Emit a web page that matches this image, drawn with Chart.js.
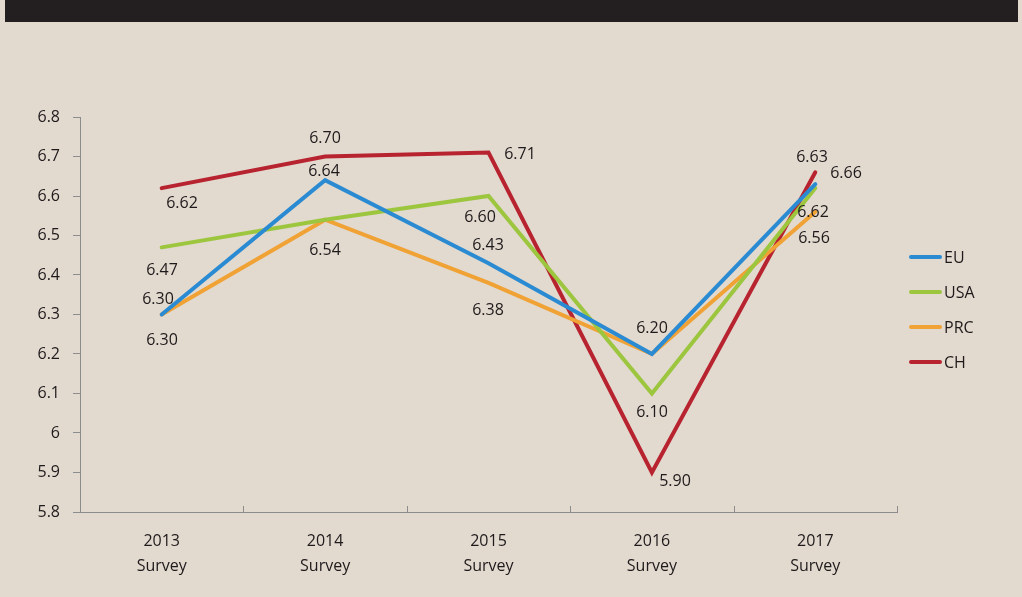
<!DOCTYPE html>
<html>
<head>
<meta charset="utf-8">
<script src="https://cdn.jsdelivr.net/npm/chart.js@4"></script>
<style>
  html, body { margin: 0; padding: 0; background: #e2d9cf; }
  .topbar { height: 22px; background: #231f20; margin: 0 4px 0 5px; }
  .wrap { position: relative; width: 1022px; height: 575px; }
</style>
</head>
<body>
<div class="topbar"></div>
<div class="wrap"><canvas id="surveyChart"></canvas></div>
<script>
const years = [["2013", "Survey"], ["2014", "Survey"], ["2015", "Survey"], ["2016", "Survey"], ["2017", "Survey"]];
const seriesNames = ["EU", "USA", "PRC", "CH"];
const euValues = [6.30, 6.64, 6.43, 6.20, 6.63];
const usaValues = [6.47, 6.54, 6.60, 6.10, 6.62];
const prcValues = [6.30, 6.54, 6.38, 6.20, 6.56];
const chValues = [6.62, 6.70, 6.71, 5.90, 6.66];

document.addEventListener("DOMContentLoaded", function () {
  const textColor = "#1e1a1b";
  const axisColor = "#8c8c8c";
  const colors = ["#2a8bd3", "#9dc63f", "#f0a235", "#b82330"];
  const font = { family: "'Open Sans', sans-serif", size: 16 };

  // label offsets from each point (dx, dy), per series
  const labelOffsets = [
    [[-4, -16], [-1, -9], [-1, -18], [0, -26], [-3, -27]],
    [[0, 23], [0, 30], [-9, 21], [0, 18], [-2, 24]],
    [[0, 25], [0, 30], [-1, 27], [0, -26], [-1, 26]],
    [[20, 15], [0, -18], [31, 1], [23, 9], [31, 1]],
  ];

  const valueLabels = {
    id: "valueLabels",
    afterDatasetsDraw(chart) {
      const ctx = chart.ctx;
      const drawn = new Set();
      ctx.save();
      ctx.font = font.size + "px " + font.family;
      ctx.fillStyle = textColor;
      ctx.textAlign = "center";
      ctx.textBaseline = "middle";
      chart.data.datasets.forEach((ds, i) => {
        chart.getDatasetMeta(i).data.forEach((pt, j) => {
          const off = labelOffsets[i][j];
          const txt = ds.data[j].toFixed(2);
          const x = Math.round(pt.x + off[0]);
          const y = Math.round(pt.y + off[1]);
          const key = txt + "@" + x + "," + y;
          if (drawn.has(key)) return; // same value at same spot, draw once
          drawn.add(key);
          ctx.fillText(txt, x, y);
        });
      });
      ctx.restore();
    },
  };

  // x axis: small tick marks pointing up at category boundaries
  const xTicks = {
    id: "xTicks",
    afterDraw(chart) {
      const x = chart.scales.x;
      const ctx = chart.ctx;
      const step = x.getPixelForValue(1) - x.getPixelForValue(0);
      ctx.save();
      ctx.strokeStyle = axisColor;
      ctx.lineWidth = 1;
      for (let i = 0; i <= years.length; i++) {
        const px = Math.round(x.getPixelForValue(i) - step / 2) + 0.5;
        ctx.beginPath();
        ctx.moveTo(px, x.top);
        ctx.lineTo(px, x.top - 6);
        ctx.stroke();
      }
      ctx.restore();
    },
  };

  const sideLegend = {
    id: "sideLegend",
    afterDraw(chart) {
      const ctx = chart.ctx;
      ctx.save();
      ctx.font = font.size + "px " + font.family;
      ctx.textBaseline = "middle";
      ctx.lineCap = "round";
      ctx.lineWidth = 4;
      chart.data.datasets.forEach((ds, i) => {
        const y = 235 + i * 35;
        ctx.strokeStyle = ds.borderColor;
        ctx.beginPath();
        ctx.moveTo(911, y);
        ctx.lineTo(940, y);
        ctx.stroke();
        ctx.fillStyle = textColor;
        ctx.fillText(ds.label, 944, y + 1);
      });
      ctx.restore();
    },
  };

  const allValues = [euValues, usaValues, prcValues, chValues];

  new Chart(document.getElementById("surveyChart"), {
    type: "line",
    data: {
      labels: years,
      datasets: seriesNames.map((name, i) => ({
        label: name,
        data: allValues[i],
        borderColor: colors[i],
        backgroundColor: colors[i],
        borderWidth: 4,
        borderJoinStyle: "miter",
        borderCapStyle: "round",
        pointRadius: 0,
        tension: 0,
      })),
    },
    options: {
      responsive: true,
      maintainAspectRatio: false,
      animation: false,
      layout: { padding: { left: 30, right: 125, top: 95, bottom: 10 } },
      plugins: {
        legend: { display: false },
        tooltip: { enabled: false },
      },
      scales: {
        x: {
          offset: true,
          grid: { display: false },
          border: { display: true, color: axisColor, width: 1 },
          ticks: { color: textColor, font: { ...font, lineHeight: 1.55 }, padding: 9, maxRotation: 0 },
          afterFit: (s) => { s.height = 75; },
        },
        y: {
          min: 5.8,
          max: 6.8,
          grid: { display: true, drawOnChartArea: false, drawTicks: true, tickLength: 7, color: axisColor },
          border: { display: true, color: axisColor, width: 1 },
          ticks: {
            stepSize: 0.1,
            color: textColor,
            font: font,
            padding: 13,
            callback: (v) => String(+v.toFixed(1)),
          },
          afterFit: (s) => { s.width = 50; },
        },
      },
    },
    plugins: [valueLabels, xTicks, sideLegend],
  });
});
</script>
</body>
</html>
